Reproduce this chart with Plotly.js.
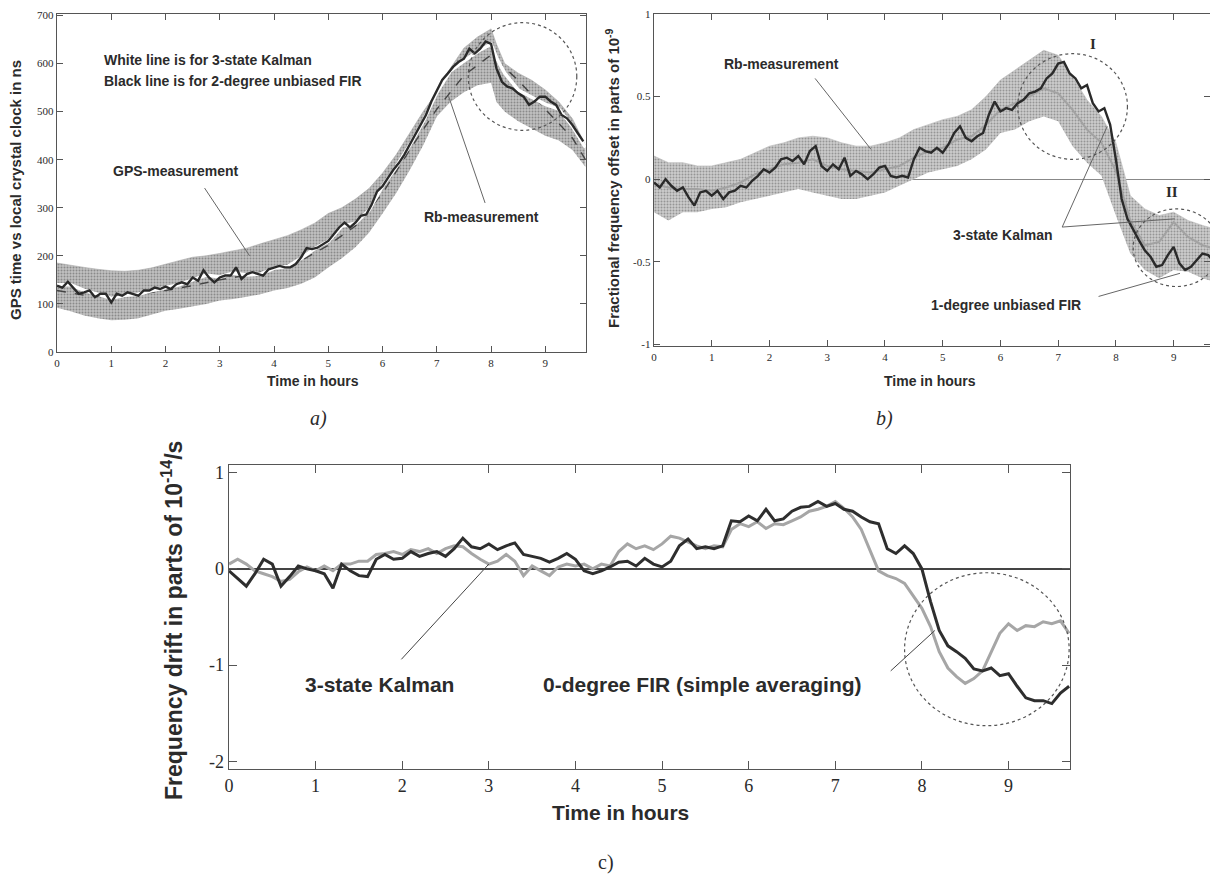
<!DOCTYPE html>
<html>
<head>
<meta charset="utf-8">
<script src="https://cdn.plot.ly/plotly-3.0.1.min.js"></script>
<style>html,body{margin:0;padding:0;background:#fff;}#chart{width:1210px;height:874px;}</style>
</head>
<body>
<div id="chart"></div>
<script>
// ---------- shared time grid (hours) ----------
const hours = [0,0.1,0.2,0.3,0.4,0.5,0.6,0.7,0.8,0.9,1,1.1,1.2,1.3,1.4,1.5,1.6,1.7,1.8,1.9,2,2.1,2.2,2.3,2.4,2.5,2.6,2.7,2.8,2.9,3,3.1,3.2,3.3,3.4,3.5,3.6,3.7,3.8,3.9,4,4.1,4.2,4.3,4.4,4.5,4.6,4.7,4.8,4.9,5,5.1,5.2,5.3,5.4,5.5,5.6,5.7,5.8,5.9,6,6.1,6.2,6.3,6.4,6.5,6.6,6.7,6.8,6.9,7,7.1,7.2,7.3,7.4,7.5,7.6,7.7,7.8,7.9,8,8.1,8.2,8.3,8.4,8.5,8.6,8.7,8.8,8.9,9,9.1,9.2,9.3,9.4,9.5,9.6,9.7];

// ---------- panel a) ----------
const aBandHours = [0,0.25,0.5,0.75,1,1.25,1.5,1.75,2,2.25,2.5,2.75,3,3.25,3.5,3.75,4,4.25,4.5,4.75,5,5.25,5.5,5.75,6,6.25,6.5,6.75,7,7.25,7.5,7.75,8,8.1,8.25,8.5,8.75,9,9.25,9.5,9.74];
const aGpsUpper = [185,180,176,172,169,168,170,175,183,190,197,200,205,210,216,225,234,242,254,268,288,300,318,340,372,410,455,500,540,590,632,655,672,640,600,580,565,545,520,485,430];
const aGpsLower = [92,85,76,70,66,67,70,78,86,90,95,100,107,110,115,120,128,133,142,155,176,195,218,248,288,330,378,430,490,520,540,555,560,520,500,480,465,450,440,420,385];
const aKalmanWhite = [140,140,128,120,112,118,120,128,134,140,150,160,156,164,160,162,174,178,195,215,230,262,268,295,345,385,430,480,540,585,605,625,640,612,580,545,530,515,505,470,425];
const aFirBlack = [138,134,146,134,121,124,128,114,121,121,103,121,117,124,121,117,128,128,134,131,136,131,141,145,141,155,148,170,155,145,155,159,159,176,152,162,166,162,159,172,176,179,176,176,183,197,216,214,217,224,231,245,259,269,259,269,283,286,307,334,345,362,379,393,410,431,452,472,493,521,545,566,579,593,603,610,631,621,631,646,641,590,562,552,548,538,531,514,521,531,531,521,514,493,486,472,455,438];
const aRbHours = [0,0.5,1,1.5,2,2.5,3,3.5,4,4.5,5,5.5,6,6.5,7,7.5,8,8.5,9,9.5,9.74];
const aRb = [128,118,115,120,128,138,150,160,172,190,222,262,330,420,505,575,618,565,505,445,400];
const aYTicks = [0,100,200,300,400,500,600,700];

// ---------- panel b) ----------
const bBandHours = [0,0.25,0.5,0.75,1,1.25,1.5,1.75,2,2.25,2.5,2.75,3,3.25,3.5,3.75,4,4.25,4.5,4.75,5,5.25,5.5,5.75,6,6.25,6.5,6.75,7,7.25,7.5,7.75,8,8.25,8.5,8.75,9,9.25,9.5,9.7];
const bRbUpper = [0.14,0.10,0.10,0.08,0.08,0.10,0.12,0.16,0.20,0.22,0.25,0.26,0.25,0.22,0.20,0.20,0.22,0.25,0.30,0.33,0.36,0.38,0.42,0.50,0.60,0.66,0.72,0.78,0.75,0.62,0.48,0.38,0.22,-0.10,-0.18,-0.22,-0.20,-0.25,-0.28,-0.30];
const bRbLower = [-0.20,-0.25,-0.20,-0.20,-0.18,-0.17,-0.14,-0.12,-0.10,-0.08,-0.06,-0.08,-0.10,-0.12,-0.12,-0.10,-0.08,-0.04,0.00,0.04,0.06,0.08,0.12,0.18,0.28,0.30,0.35,0.38,0.35,0.20,0.10,0.02,-0.22,-0.45,-0.55,-0.60,-0.55,-0.56,-0.60,-0.62];
const bKalman = [-0.03,-0.05,-0.06,-0.06,-0.07,-0.05,-0.02,0.03,0.06,0.09,0.10,0.12,0.08,0.06,0.05,0.04,0.06,0.08,0.13,0.17,0.19,0.24,0.26,0.33,0.42,0.46,0.50,0.55,0.52,0.42,0.30,0.22,0.05,-0.25,-0.40,-0.38,-0.26,-0.35,-0.40,-0.42];
const bFir = [-0.02,-0.05,0.0,-0.04,-0.07,-0.05,-0.11,-0.16,-0.08,-0.07,-0.10,-0.07,-0.12,-0.08,-0.07,-0.04,-0.05,-0.01,0.02,0.06,0.04,0.07,0.12,0.13,0.11,0.14,0.09,0.17,0.20,0.08,0.05,0.09,0.06,0.13,0.02,0.05,0.03,0.00,0.03,0.07,0.08,0.02,0.01,0.02,0.01,0.12,0.19,0.17,0.16,0.19,0.16,0.21,0.28,0.32,0.25,0.23,0.26,0.28,0.39,0.47,0.41,0.43,0.42,0.46,0.48,0.52,0.53,0.55,0.61,0.64,0.70,0.71,0.64,0.61,0.55,0.57,0.46,0.41,0.43,0.33,0.12,-0.12,-0.24,-0.31,-0.37,-0.43,-0.47,-0.53,-0.52,-0.46,-0.41,-0.51,-0.55,-0.53,-0.49,-0.45,-0.46,-0.50];
const bYTicks = [-1,-0.5,0,0.5,1];
const bYTickText = ["-1","-0.5","0","0.5","1"];

// ---------- panel c) ----------
const cKalman = [-0.02,-0.10,-0.18,-0.05,0.10,0.05,-0.18,-0.08,0.03,0.00,-0.02,-0.05,-0.20,0.05,-0.02,-0.07,-0.08,0.10,0.15,0.10,0.11,0.18,0.13,0.16,0.18,0.13,0.21,0.32,0.23,0.21,0.26,0.20,0.24,0.27,0.15,0.13,0.11,0.07,0.11,0.16,0.10,-0.02,-0.05,-0.02,0.02,0.07,0.08,0.03,0.11,0.05,0.02,0.08,0.24,0.31,0.21,0.23,0.21,0.24,0.50,0.49,0.55,0.50,0.62,0.50,0.52,0.60,0.64,0.65,0.70,0.65,0.68,0.62,0.60,0.54,0.49,0.47,0.21,0.16,0.24,0.16,0.00,-0.34,-0.64,-0.80,-0.86,-0.93,-1.04,-1.06,-1.03,-1.11,-1.09,-1.22,-1.34,-1.37,-1.37,-1.40,-1.29,-1.22];
const cFir0 = [0.05,0.10,0.05,-0.02,-0.05,-0.08,-0.13,-0.11,-0.03,0.02,-0.02,0.03,-0.02,0.05,0.05,0.08,0.08,0.15,0.16,0.18,0.15,0.20,0.18,0.21,0.16,0.21,0.24,0.23,0.16,0.10,0.05,0.08,0.15,0.08,-0.07,0.03,-0.02,-0.07,0.02,0.05,0.03,0.05,0.00,0.05,0.03,0.18,0.26,0.21,0.24,0.20,0.26,0.34,0.32,0.28,0.24,0.21,0.24,0.23,0.41,0.47,0.44,0.49,0.42,0.47,0.46,0.50,0.54,0.60,0.62,0.65,0.70,0.63,0.54,0.41,0.20,-0.02,-0.07,-0.10,-0.15,-0.28,-0.41,-0.60,-0.86,-1.03,-1.12,-1.19,-1.14,-1.06,-0.86,-0.67,-0.57,-0.64,-0.59,-0.60,-0.55,-0.57,-0.54,-0.67];
const cYTicks = [-2,-1,0,1];
const cYTickText = ["-2","-1","0","1"];
const xTicks = [0,1,2,3,4,5,6,7,8,9];

// ---------- styling ----------
const SANS = "'Liberation Sans Narrow', 'Arial Narrow', 'Liberation Sans', Arial, sans-serif";
const SERIF = "'Liberation Serif', 'Times New Roman', serif";
const INK = '#2b2b2b';

function axisStyle(extra) {
  return Object.assign({
    showgrid: false, showline: true, linecolor: '#555', linewidth: 1.3,
    mirror: 'ticks', ticks: 'inside', ticklen: 6, tickcolor: '#555', tickwidth: 1,
    tickfont: {family: SERIF, size: 11, color: '#2a2a2a'}, zeroline: false, fixedrange: true
  }, extra);
}

const traces = [
  // a) GPS band
  {x: aBandHours, y: aGpsLower, xaxis: 'x', yaxis: 'y', mode: 'lines', line: {width: 0, color: '#aaa'}, hoverinfo: 'skip', showlegend: false},
  {x: aBandHours, y: aGpsUpper, xaxis: 'x', yaxis: 'y', mode: 'lines', line: {width: 0.6, color: '#a8a8a8'}, fill: 'tonexty', fillcolor: '#bdbdbd',
   fillpattern: {shape: '.', fgcolor: '#8a8a8a', bgcolor: '#c2c2c2', size: 3, solidity: 0.35}, showlegend: false, name: 'GPS-measurement'},
  {x: aRbHours, y: aRb, xaxis: 'x', yaxis: 'y', mode: 'lines', line: {width: 1.4, color: '#444', dash: 'dash'}, showlegend: false, name: 'Rb-measurement'},
  {x: aBandHours, y: aKalmanWhite, xaxis: 'x', yaxis: 'y', mode: 'lines', line: {width: 3.5, color: '#ffffff'}, showlegend: false, name: '3-state Kalman'},
  {x: hours, y: aFirBlack, xaxis: 'x', yaxis: 'y', mode: 'lines', line: {width: 2.4, color: '#2a2a2a'}, showlegend: false, name: '2-degree unbiased FIR'},

  // b) Rb band
  {x: bBandHours, y: bRbLower, xaxis: 'x2', yaxis: 'y2', mode: 'lines', line: {width: 0, color: '#bbb'}, hoverinfo: 'skip', showlegend: false},
  {x: bBandHours, y: bRbUpper, xaxis: 'x2', yaxis: 'y2', mode: 'lines', line: {width: 0.6, color: '#b8b8b8'}, fill: 'tonexty', fillcolor: '#c8c8c8',
   fillpattern: {shape: '.', fgcolor: '#959595', bgcolor: '#cdcdcd', size: 3, solidity: 0.35}, showlegend: false, name: 'Rb-measurement'},
  {x: bBandHours, y: bKalman, xaxis: 'x2', yaxis: 'y2', mode: 'lines', line: {width: 2, color: '#a2a2a2'}, showlegend: false, name: '3-state Kalman'},
  {x: hours, y: bFir, xaxis: 'x2', yaxis: 'y2', mode: 'lines', line: {width: 2.4, color: '#2a2a2a'}, showlegend: false, name: '1-degree unbiased FIR'},

  // c)
  {x: hours, y: cFir0, xaxis: 'x3', yaxis: 'y3', mode: 'lines', line: {width: 3, color: '#a6a6a6'}, showlegend: false, name: '0-degree FIR (simple averaging)'},
  {x: hours, y: cKalman, xaxis: 'x3', yaxis: 'y3', mode: 'lines', line: {width: 3, color: '#2e2e2e'}, showlegend: false, name: '3-state Kalman'}
];

function txt(xref, yref, x, y, text, size, opts) {
  return Object.assign({xref: xref, yref: yref, x: x, y: y, text: text, showarrow: false,
    font: {family: SANS, size: size, color: INK, weight: 'bold'}, xanchor: 'left', yanchor: 'middle'}, opts || {});
}
function seg(xr, yr, x0, y0, x1, y1, color) {
  return {type: 'line', xref: xr, yref: yr, x0: x0, y0: y0, x1: x1, y1: y1, line: {color: color || '#666', width: 1}};
}
function ring(xr, yr, x0, y0, x1, y1) {
  return {type: 'circle', xref: xr, yref: yr, x0: x0, y0: y0, x1: x1, y1: y1, line: {color: '#555', width: 1.2, dash: 'dot'}};
}

const annotations = [
  // panel a
  txt('x', 'y', 0.83, 607, 'White line is for 3-state Kalman', 14),
  txt('x', 'y', 0.83, 564, 'Black line is for 2-degree unbiased FIR', 14),
  txt('x', 'y', 0.99, 376, 'GPS-measurement', 14),
  txt('x', 'y', 6.73, 281, 'Rb-measurement', 14),
  txt('paper', 'paper', 313/1210, 1 - 381/874, 'Time in hours', 14, {xanchor: 'center'}),
  txt('paper', 'paper', 16/1210, 1 - 190/874, 'GPS time vs local crystal clock in ns', 15, {xanchor: 'center', textangle: -90}),
  txt('paper', 'paper', 318/1210, 1 - 418/874, 'a)', 20, {xanchor: 'center', font: {family: SERIF, size: 20, color: INK, style: 'italic'}}),

  // panel b
  txt('x2', 'y2', 1.17, 0.70, 'Rb-measurement', 14),
  txt('x2', 'y2', 7.6, 0.82, 'I', 15, {xanchor: 'center', font: {family: SERIF, size: 15, color: INK, weight: 'bold'}}),
  txt('x2', 'y2', 8.97, -0.08, 'II', 15, {xanchor: 'center', font: {family: SERIF, size: 15, color: INK, weight: 'bold'}}),
  txt('x2', 'y2', 5.14, -0.34, '3-state Kalman', 14),
  txt('x2', 'y2', 4.77, -0.76, '1-degree unbiased FIR', 14),
  txt('paper', 'paper', 930/1210, 1 - 381/874, 'Time in hours', 14, {xanchor: 'center'}),
  txt('paper', 'paper', 612/1210, 1 - 178/874, 'Fractional frequency offset in parts of 10<sup>-9</sup>', 15, {xanchor: 'center', textangle: -90}),
  txt('paper', 'paper', 884/1210, 1 - 418/874, 'b)', 20, {xanchor: 'center', font: {family: SERIF, size: 20, color: INK, style: 'italic'}}),

  // panel c
  txt('x3', 'y3', 0.85, -1.2, '3-state Kalman', 21),
  txt('x3', 'y3', 3.6, -1.2, '0-degree FIR (simple averaging)', 21),
  txt('paper', 'paper', 620/1210, 1 - 812/874, 'Time in hours', 21, {xanchor: 'center'}),
  txt('paper', 'paper', 172/1210, 1 - 621/874, 'Frequency drift in parts of 10<sup>-14</sup>/s', 23, {xanchor: 'center', textangle: -90}),
  txt('paper', 'paper', 606/1210, 1 - 862/874, 'c)', 20, {xanchor: 'center', font: {family: SERIF, size: 20, color: INK}})
];

const shapes = [
  // panel a
  seg('x', 'y', 2.72, 341, 3.55, 200),
  seg('x', 'y', 7.89, 310, 7.22, 531),
  ring('x', 'y', 7.58, 461, 9.58, 685),
  // panel b
  seg('x2', 'y2', 2.79, 0.61, 3.76, 0.18),
  seg('x2', 'y2', 7.07, -0.29, 7.85, 0.32),
  seg('x2', 'y2', 7.07, -0.29, 9.02, -0.24),
  seg('x2', 'y2', 7.70, -0.71, 9.11, -0.57),
  ring('x2', 'y2', 6.3, 0.12, 8.2, 0.76),
  ring('x2', 'y2', 8.3, -0.65, 9.8, -0.18),
  // panel c
  seg('x3', 'y3', 1.99, -0.94, 3.0, 0.05, '#444'),
  seg('x3', 'y3', 7.64, -1.06, 8.15, -0.64, '#444'),
  ring('x3', 'y3', 7.8, -1.63, 9.7, -0.04)
];

const layout = {
  width: 1210, height: 874,
  margin: {l: 0, r: 0, t: 0, b: 0},
  paper_bgcolor: '#ffffff', plot_bgcolor: '#ffffff',
  showlegend: false,
  xaxis: axisStyle({domain: [57/1210, 586/1210], range: [0, 9.75], tickvals: xTicks, anchor: 'y'}),
  yaxis: axisStyle({domain: [1 - 352/874, 1 - 14/874], range: [0, 703], tickvals: aYTicks, anchor: 'x'}),
  xaxis2: axisStyle({domain: [654/1210, 1], range: [0, 9.63], tickvals: xTicks, anchor: 'y2'}),
  yaxis2: axisStyle({domain: [1 - 346/874, 1 - 14/874], range: [-1.01, 1.0], tickvals: bYTicks, ticktext: bYTickText, anchor: 'x2',
                     zeroline: true, zerolinecolor: '#888', zerolinewidth: 1}),
  xaxis3: axisStyle({domain: [229/1210, 1070/1210], range: [0, 9.71], tickvals: xTicks, anchor: 'y3', ticklen: 8,
                     tickfont: {family: SERIF, size: 18, color: '#2a2a2a'}}),
  yaxis3: axisStyle({domain: [1 - 769/874, 1 - 465/874], range: [-2.08, 1.08], tickvals: cYTicks, ticktext: cYTickText, anchor: 'x3', ticklen: 8,
                     tickfont: {family: SERIF, size: 18, color: '#2a2a2a'}, zeroline: true, zerolinecolor: '#444', zerolinewidth: 1.2}),
  annotations: annotations,
  shapes: shapes
};

Plotly.newPlot('chart', traces, layout, {displayModeBar: false, staticPlot: true});
</script>
</body>
</html>
